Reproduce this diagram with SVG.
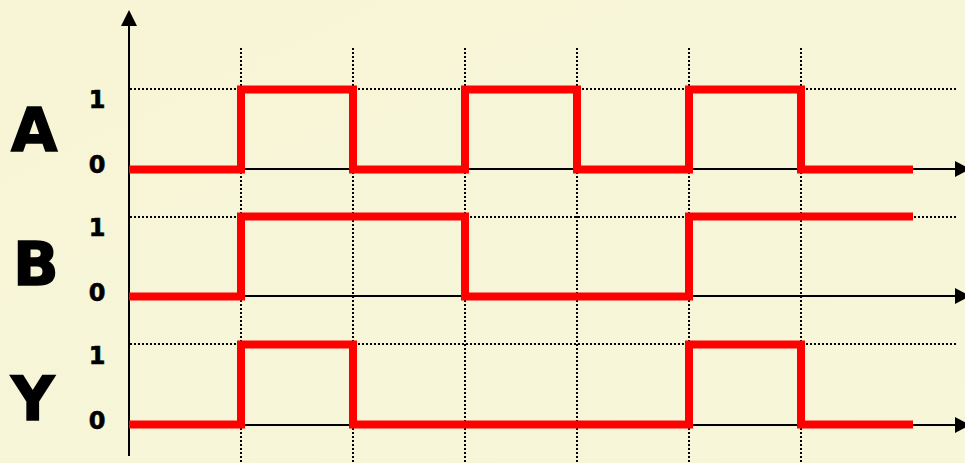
<svg xmlns="http://www.w3.org/2000/svg" width="965" height="463" viewBox="0 0 965 463">
<defs>
<style>
.axis{stroke:#000;stroke-width:2;fill:none}
.grid{stroke:#000;stroke-width:2;stroke-dasharray:2 2;fill:none}
.sig{stroke:#ff0000;stroke-width:8;fill:none;stroke-linejoin:miter;stroke-linecap:butt}
.big{font-family:"DejaVu Sans",Verdana,sans-serif;font-weight:bold;font-size:60px;fill:#000;stroke:#000;stroke-width:1.5}
.lvl{font-family:"DejaVu Sans",Verdana,sans-serif;font-weight:bold;font-size:24px;fill:#000;text-anchor:middle;stroke:#000;stroke-width:0.6}
</style>
<linearGradient id="bg" x1="0" y1="0" x2="1" y2="1">
<stop offset="0" stop-color="#f7f5d6"/>
<stop offset="1" stop-color="#f8f6d9"/>
</linearGradient>
</defs>
<rect x="0" y="0" width="965" height="463" fill="url(#bg)"/>
<g id="grid">
<path class="grid" d="M241,48V463M353,48V463M465,48V463M577,48V463M689,48V463M801,48V463"/>
<path class="grid" d="M130,89H958M130,217H958M130,344H958"/>
</g>
<g id="connectors">
<path class="axis" d="M129,22V456"/>
<polygon points="129,10 121,26 137,26" fill="#000"/>
<path class="axis" d="M129,169H955M129,296H955M129,425H955"/>
<polygon points="970,169 955,161 955,177" fill="#000"/>
<polygon points="970,296 955,288 955,304" fill="#000"/>
<polygon points="970,425 955,417 955,433" fill="#000"/>
</g>
<g id="signalA">
<path class="sig" d="M129,169.5H241V89.5H353V169.5H465V89.5H577V169.5H689V89.5H801V169.5H913"/>
</g>
<g id="signalB">
<path class="sig" d="M129,296.5H241V216.5H465V296.5H689V216.5H913"/>
</g>
<g id="signalY">
<path class="sig" d="M129,424.5H241V344.5H353V424.5H689V344.5H801V424.5H913"/>
</g>
<g id="labelA">
<text class="big" x="11" y="151">A</text>
<text class="lvl" x="97" y="108">1</text>
<text class="lvl" x="97" y="173">0</text>
</g>
<g id="labelB">
<text class="big" x="13" y="285">B</text>
<text class="lvl" x="97" y="236">1</text>
<text class="lvl" x="97" y="301">0</text>
</g>
<g id="labelY">
<text class="big" x="11" y="420">Y</text>
<text class="lvl" x="97" y="364">1</text>
<text class="lvl" x="97" y="429">0</text>
</g>
</svg>
